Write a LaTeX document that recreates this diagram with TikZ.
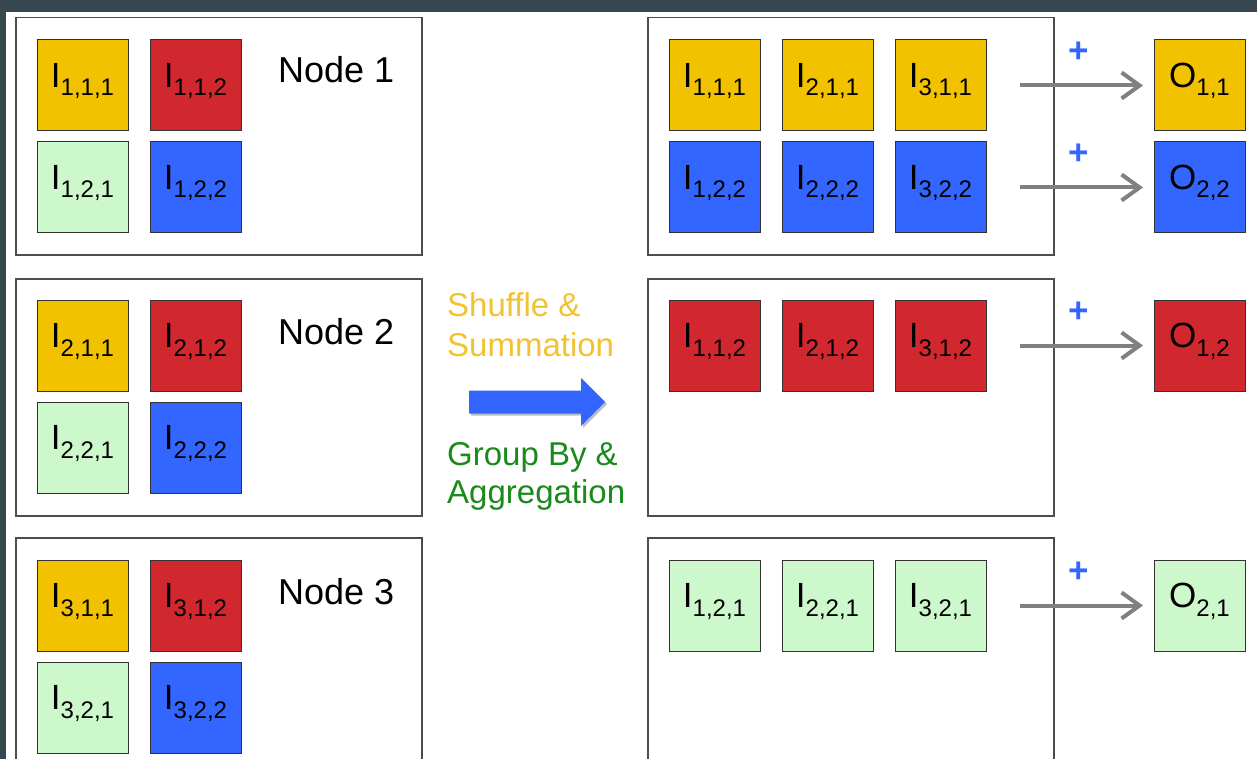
\documentclass[tikz,border=0pt]{standalone}
\usepackage{fontspec}
\setmainfont{Liberation Sans}
\usetikzlibrary{arrows.meta}

\definecolor{slide}{HTML}{37474F}
\definecolor{cyel}{HTML}{F2C200}
\definecolor{cred}{HTML}{D0282E}
\definecolor{cgrn}{HTML}{CCF8CC}
\definecolor{cblu}{HTML}{3366FF}
\definecolor{txtgrn}{HTML}{1A8A1A}
\definecolor{txtyel}{HTML}{F1C232}
\definecolor{framegray}{HTML}{4D4D4D}
\definecolor{arrgray}{HTML}{808080}

% label with a lowered index string
\newcommand\subidx[2]{#1\raisebox{-8.5pt}{\fontsize{24}{24}\selectfont #2}}
% a coloured cell: name, left x, top y, fill, label
\newcommand\cellat[5]{%
  \node[cell, fill=#4, anchor=north west] (#1) at (#2,#3) {};
  \node[clabel] (#1-t) at ([yshift=-47.5pt]#1.north) {#5};}

\tikzset{
  nodebox/.style={draw=framegray, line width=1.5pt, inner sep=0pt, anchor=north west,
                  minimum width=406pt, minimum height=237pt},
  cell/.style={draw=black!80, line width=1pt, minimum size=91pt, inner sep=0pt, outer sep=0pt},
  clabel/.style={anchor=base, inner sep=0pt, font=\fontsize{35}{35}\selectfont},
  nodename/.style={anchor=base west, inner sep=0pt, font=\fontsize{36}{36}\selectfont},
  sumarrow/.style={draw=arrgray, line width=4pt,
                   -{Straight Barb[length=18pt,width=26pt]}, shorten >=11pt},
  plus/.style={text=cblu, inner sep=0pt, font=\fontsize{35}{35}\selectfont\bfseries},
  midtext/.style={anchor=base west, inner sep=0pt, font=\fontsize{33}{40}\selectfont},
}

\begin{document}
\begin{tikzpicture}[x=1pt,y=-1pt]
\useasboundingbox (0,0) rectangle (1257,759);
\clip (0,0) rectangle (1257,759);
\fill[white] (0,0) rectangle (1257,759);

% slide frame
\fill[slide] (0,0) rectangle (1257,12);
\fill[slide] (0,0) rectangle (6,759);

% machine boxes (left) and reducer boxes (right)
\node[nodebox] (m1) at (15,17) {};
\node[nodebox] (m2) at (15,278) {};
\node[nodebox] (m3) at (15,537) {};
\node[nodebox] (r1) at (647,17) {};
\node[nodebox] (r2) at (647,278) {};
\node[nodebox] (r3) at (647,537) {};

% Node 1
\cellat{a111}{37}{40}{cyel}{\subidx{I}{1,1,1}}
\cellat{a112}{150}{40}{cred}{\subidx{I}{1,1,2}}
\cellat{a121}{37}{142}{cgrn}{\subidx{I}{1,2,1}}
\cellat{a122}{150}{142}{cblu}{\subidx{I}{1,2,2}}
\node[nodename] (n1) at (278,83) {Node 1};

% Node 2
\cellat{a211}{37}{300}{cyel}{\subidx{I}{2,1,1}}
\cellat{a212}{150}{300}{cred}{\subidx{I}{2,1,2}}
\cellat{a221}{37}{402}{cgrn}{\subidx{I}{2,2,1}}
\cellat{a222}{150}{402}{cblu}{\subidx{I}{2,2,2}}
\node[nodename] (n2) at (278,344) {Node 2};

% Node 3
\cellat{a311}{37}{560}{cyel}{\subidx{I}{3,1,1}}
\cellat{a312}{150}{560}{cred}{\subidx{I}{3,1,2}}
\cellat{a321}{37}{662}{cgrn}{\subidx{I}{3,2,1}}
\cellat{a322}{150}{662}{cblu}{\subidx{I}{3,2,2}}
\node[nodename] (n3) at (278,604) {Node 3};

% grouped cells
\cellat{b111}{669}{40}{cyel}{\subidx{I}{1,1,1}}
\cellat{b211}{782}{40}{cyel}{\subidx{I}{2,1,1}}
\cellat{b311}{895}{40}{cyel}{\subidx{I}{3,1,1}}
\cellat{b122}{669}{142}{cblu}{\subidx{I}{1,2,2}}
\cellat{b222}{782}{142}{cblu}{\subidx{I}{2,2,2}}
\cellat{b322}{895}{142}{cblu}{\subidx{I}{3,2,2}}

\cellat{b112}{669}{300}{cred}{\subidx{I}{1,1,2}}
\cellat{b212}{782}{300}{cred}{\subidx{I}{2,1,2}}
\cellat{b312}{895}{300}{cred}{\subidx{I}{3,1,2}}

\cellat{b121}{669}{560}{cgrn}{\subidx{I}{1,2,1}}
\cellat{b221}{782}{560}{cgrn}{\subidx{I}{2,2,1}}
\cellat{b321}{895}{560}{cgrn}{\subidx{I}{3,2,1}}

% outputs
\cellat{o11}{1154}{40}{cyel}{\subidx{O}{1,1}}
\cellat{o22}{1154}{142}{cblu}{\subidx{O}{2,2}}
\cellat{o12}{1154}{300}{cred}{\subidx{O}{1,2}}
\cellat{o21}{1154}{560}{cgrn}{\subidx{O}{2,1}}

% summation arrows
\draw[sumarrow] ([xshift=34pt]b311.east) -- (o11.west);
\draw[sumarrow] ([xshift=34pt]b322.east) -- (o22.west);
\draw[sumarrow] ([xshift=34pt]b312.east) -- (o12.west);
\draw[sumarrow] ([xshift=34pt]b321.east) -- (o21.west);
\node[plus] (p1) at (1079,52) {+};
\node[plus] (p2) at (1079,154) {+};
\node[plus] (p3) at (1079,312) {+};
\node[plus] (p4) at (1079,572) {+};

% middle captions
\node[midtext, text=txtyel] (t1) at (447,316) {Shuffle \&};
\node[midtext, text=txtyel] (t2) at (447,356) {Summation};
\node[midtext, text=txtgrn] (t3) at (447,465) {Group By \&};
\node[midtext, text=txtgrn] (t4) at (447,503) {Aggregation};

% big block arrow with soft shadow
\fill[black, opacity=0.25] (471,392.5) -- (583,392.5) -- (583,380) -- (607,404)
  -- (583,428) -- (583,415.5) -- (471,415.5) -- cycle;
\fill[cblu] (469,390.5) -- (581,390.5) -- (581,378) -- (605,402)
  -- (581,426) -- (581,413.5) -- (469,413.5) -- cycle;
\end{tikzpicture}
\end{document}
